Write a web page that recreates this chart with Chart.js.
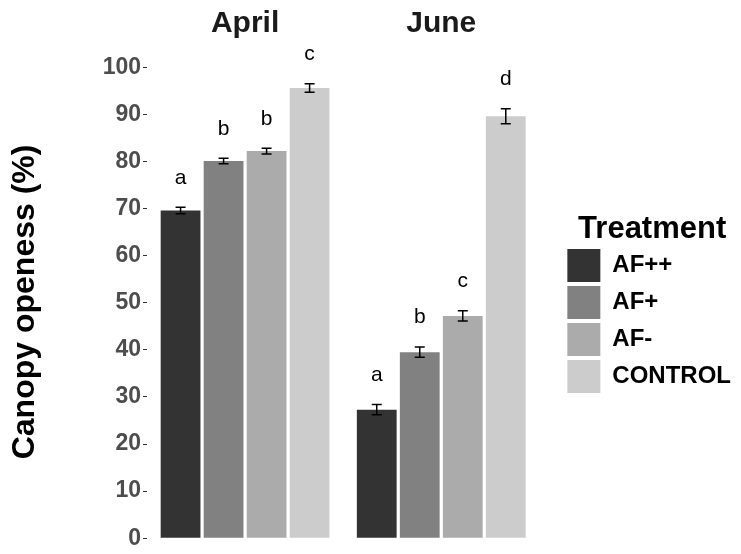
<!DOCTYPE html>
<html lang="en">
<head>
    <meta charset="UTF-8">
    <title>Canopy openess</title>
    <script src="https://cdn.jsdelivr.net/npm/chart.js"></script>
    <style>
        body {
            margin: 0;
            padding: 0;
            background-color: #ffffff;
        }
        #wrap {
            width: 741px;
            height: 554px;
        }
    </style>
</head>
<body>
    <div id="wrap">
        <canvas id="canopyChart" width="741" height="554"></canvas>
    </div>

    <script>
        // facets (x categories) and treatments (bar groups)
        const months = ['April', 'June'];
        const treatments = ['AF++', 'AF+', 'AF-', 'CONTROL'];

        // mean canopy openness (%) per month, one array per treatment
        const meanAFpp = [69.6, 27.3];
        const meanAFp = [80.1, 39.5];
        const meanAFm = [82.2, 47.2];
        const meanControl = [95.6, 89.6];

        // standard errors
        const seAFpp = [0.7, 1.1];
        const seAFp = [0.6, 1.1];
        const seAFm = [0.6, 1.1];
        const seControl = [0.9, 1.6];

        // significance letters
        const lettersAFpp = ['a', 'a'];
        const lettersAFp = ['b', 'b'];
        const lettersAFm = ['b', 'c'];
        const lettersControl = ['c', 'd'];

        const fills = ['#333333', '#818181', '#ABABAB', '#CCCCCC'];
        const means = [meanAFpp, meanAFp, meanAFm, meanControl];
        const errors = [seAFpp, seAFp, seAFm, seControl];
        const letters = [lettersAFpp, lettersAFp, lettersAFm, lettersControl];

        Chart.defaults.font.family = '"Liberation Sans", Arial, sans-serif';

        // error bars + letters drawn on top of the bars
        const errorBarPlugin = {
            id: 'errorBars',
            afterDatasetsDraw(chart) {
                const ctx = chart.ctx;
                const y = chart.scales.y;
                ctx.save();
                chart.data.datasets.forEach((ds, i) => {
                    const meta = chart.getDatasetMeta(i);
                    meta.data.forEach((bar, j) => {
                        const m = ds.data[j];
                        const se = ds.se[j];
                        const top = y.getPixelForValue(m + se);
                        const bot = y.getPixelForValue(m - se);
                        ctx.strokeStyle = '#000';
                        ctx.lineWidth = 1.5;
                        ctx.beginPath();
                        ctx.moveTo(bar.x, top);
                        ctx.lineTo(bar.x, bot);
                        ctx.moveTo(bar.x - 5, top);
                        ctx.lineTo(bar.x + 5, top);
                        ctx.moveTo(bar.x - 5, bot);
                        ctx.lineTo(bar.x + 5, bot);
                        ctx.stroke();

                        ctx.fillStyle = '#000';
                        ctx.font = '21px "Liberation Sans", Arial, sans-serif';
                        ctx.textAlign = 'center';
                        ctx.textBaseline = 'alphabetic';
                        ctx.fillText(ds.letters[j], bar.x, y.getPixelForValue(m + se + 5));
                    });
                });
                ctx.restore();
            }
        };

        const ctx1 = document.getElementById('canopyChart').getContext('2d');
        const canopyChart = new Chart(ctx1, {
            type: 'bar',
            data: {
                labels: months,
                datasets: treatments.map((t, i) => ({
                    label: t,
                    data: means[i],
                    se: errors[i],
                    letters: letters[i],
                    backgroundColor: fills[i],
                    borderWidth: 0,
                    categoryPercentage: 0.877,
                    barPercentage: 0.925
                }))
            },
            options: {
                responsive: false,
                animation: false,
                devicePixelRatio: 1,
                layout: { padding: { top: 0, right: 0, bottom: 15, left: 0 } },
                plugins: {
                    tooltip: { enabled: false },
                    legend: {
                        position: 'right',
                        align: 'center',
                        maxWidth: 220,
                        labels: {
                            boxWidth: 33,
                            boxHeight: 33,
                            padding: 4,
                            color: '#000',
                            font: { size: 24, weight: 'bold' }
                        },
                        title: {
                            display: true,
                            text: 'Treatment',
                            position: 'center',
                            color: '#000',
                            font: { size: 31, weight: 'bold' },
                            padding: { top: 72, bottom: -6 }
                        }
                    }
                },
                scales: {
                    x: {
                        position: 'top',
                        grid: { display: false, drawTicks: false },
                        border: { display: false },
                        ticks: {
                            padding: -3,
                            color: '#1a1a1a',
                            font: { size: 30, weight: 'bold' }
                        },
                        afterFit(scale) { scale.height = 39; }
                    },
                    y: {
                        min: 0,
                        max: 106,
                        grid: { drawOnChartArea: false, tickLength: 4, color: '#333333' },
                        border: { display: false },
                        ticks: {
                            stepSize: 10,
                            includeBounds: false,
                            padding: 2,
                            color: '#4d4d4d',
                            font: { size: 23, weight: 'bold' }
                        },
                        title: {
                            display: true,
                            text: 'Canopy openess (%)   ',
                            color: '#000',
                            font: { size: 32, weight: 'bold' },
                            padding: { top: 6, bottom: 0 }
                        },
                        afterFit(scale) { scale.width = 147; }
                    },
                    yGap: {
                        position: 'right',
                        min: 0,
                        max: 1,
                        grid: { display: false },
                        border: { display: false },
                        ticks: { display: false },
                        afterFit(scale) { scale.width = 24; }
                    }
                }
            },
            plugins: [errorBarPlugin]
        });
    </script>
</body>
</html>
